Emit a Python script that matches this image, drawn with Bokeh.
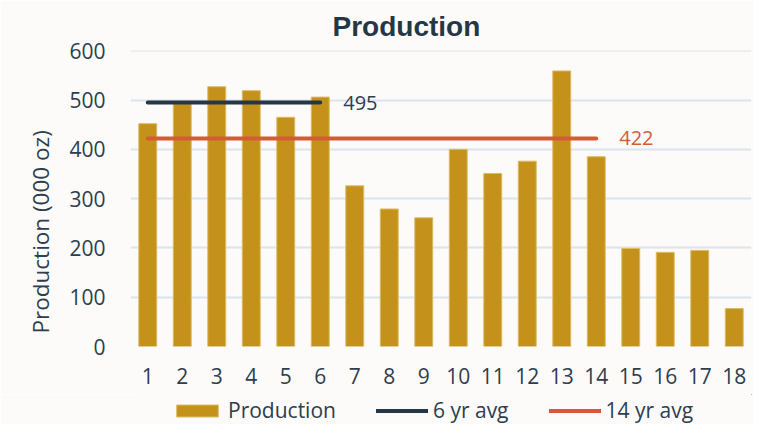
from bokeh.plotting import figure
from bokeh.layouts import column
from bokeh.models import ColumnDataSource, Legend, LegendItem, FixedTicker, Range1d, Title
from bokeh.core.properties import value
from bokeh.embed import file_html
from bokeh.resources import INLINE

# ---- data ----
years = list(range(1, 19))
production = [452, 497, 527, 519, 465, 506, 326, 279, 261, 400, 351, 376, 559, 385, 199, 191, 195, 77]
avg6_value = 495
avg14_value = 422
avg6_years = years[:6]
avg14_years = years[:14]
y_ticks = [0, 100, 200, 300, 400, 500, 600]

BG = "#fcfbf9"
GOLD = "#c4921a"
GOLD_EDGE = "#dcbc68"
NAVY = "#243746"
ORANGE = "#d35b35"
TEXT = "#2d3e4e"
FONT = "Open Sans"

p = figure(width=753, height=394, output_backend="svg", toolbar_location=None,
           x_range=Range1d(0.5, 18.5), y_range=Range1d(0, 600.5),
           min_border_left=130, min_border_right=2, min_border_top=50, min_border_bottom=48,
           background_fill_color=BG, border_fill_color=BG, outline_line_color=None)

p.title.text = "Production"
p.title.text_font = "Liberation Sans"
p.title.text_font_style = "bold"
p.title.text_font_size = "28px"
p.title.text_color = NAVY
p.title.align = "left"
p.title.offset = 202
p.title.standoff = 17

src = ColumnDataSource(dict(x=years, top=production))
p.vbar(x="x", top="top", width=0.52, source=src, fill_color=GOLD,
       line_color=GOLD_EDGE, line_width=1)

p.line(avg6_years, [avg6_value] * len(avg6_years), line_color=NAVY, line_width=4, line_cap="round")
p.line(avg14_years, [avg14_value] * len(avg14_years), line_color=ORANGE, line_width=4, line_cap="round")

p.text(x=[avg6_years[-1]], y=[avg6_value], text=[str(avg6_value)], x_offset=23,
       text_baseline="middle", text_align="left", text_font=value(FONT),
       text_font_size="20px", text_color=TEXT)
p.text(x=[avg14_years[-1]], y=[avg14_value], text=[str(avg14_value)], x_offset=23,
       text_baseline="middle", text_align="left", text_font=value(FONT),
       text_font_size="20px", text_color=ORANGE)

# axes
p.xaxis.ticker = FixedTicker(ticks=years)
p.yaxis.ticker = FixedTicker(ticks=y_ticks)
for ax in (p.xaxis, p.yaxis):
    ax.axis_line_color = None
    ax.major_tick_line_color = None
    ax.minor_tick_line_color = None
    ax.major_tick_out = 0
    ax.major_tick_in = 0
    ax.major_label_text_font = FONT
    ax.major_label_text_font_size = "21px"
    ax.major_label_text_color = TEXT
p.xaxis.major_label_standoff = 21
p.yaxis.major_label_standoff = 25

ylab = Title(text="Production (000 oz)", align="left", offset=13,
             text_font=FONT, text_font_size="22.5px", text_font_style="normal",
             text_color=TEXT, standoff=21)
p.add_layout(ylab, "left")

p.xgrid.grid_line_color = None
p.ygrid.grid_line_color = "#dce4ec"
p.ygrid.grid_line_width = 2

# legend strip below the chart (its renderers fall outside its own visible range)
lg = figure(width=753, height=30, output_backend="svg", toolbar_location=None,
            x_range=Range1d(-2, -1), y_range=Range1d(-2, -1), x_axis_type=None, y_axis_type=None,
            min_border=0, background_fill_color=BG, border_fill_color=BG, outline_line_color=None)
lg.xgrid.visible = False
lg.ygrid.visible = False
r_bar = lg.vbar(x=years, top=production, width=0.52, fill_color=GOLD, line_color=GOLD_EDGE, line_width=1)
r_6 = lg.line(avg6_years, [avg6_value] * len(avg6_years), line_color=NAVY, line_width=4, line_cap="round")
r_14 = lg.line(avg14_years, [avg14_value] * len(avg14_years), line_color=ORANGE, line_width=4, line_cap="round")

legend = Legend(items=[LegendItem(label="Production", renderers=[r_bar]),
                       LegendItem(label="6 yr avg", renderers=[r_6]),
                       LegendItem(label="14 yr avg", renderers=[r_14])],
                orientation="horizontal", location=(41, 0),
                glyph_width=52, glyph_height=15, label_standoff=5, spacing=40,
                padding=0, margin=0, label_text_font=FONT, label_text_font_size="21px",
                label_text_color=TEXT, background_fill_alpha=0, border_line_color=None)
lg.add_layout(legend, "center")

page = column(p, lg, spacing=0)
open("out.html", "w").write(file_html(page, INLINE))
